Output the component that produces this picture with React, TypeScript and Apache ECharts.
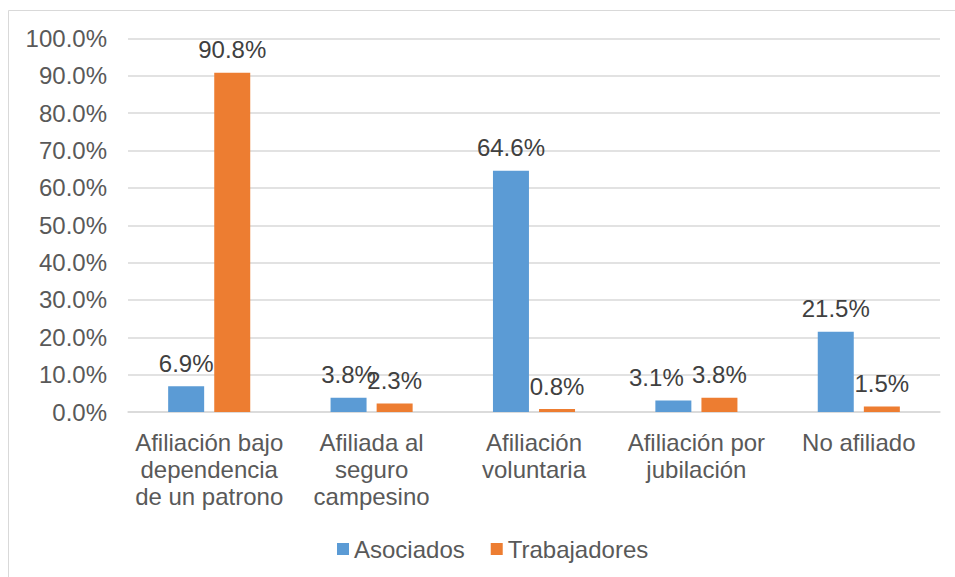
import React, { useEffect, useRef } from "react";
import * as echarts from "echarts";

const categories = [
  "Afiliación bajo\ndependencia\nde un patrono",
  "Afiliada al\nseguro\ncampesino",
  "Afiliación\nvoluntaria",
  "Afiliación por\njubilación",
  "No afiliado",
];
const asociados = [6.9, 3.8, 64.6, 3.1, 21.5];
const trabajadores = [90.8, 2.3, 0.8, 3.8, 1.5];
const seriesNames = ["Asociados", "Trabajadores"];

const FONT = "'Liberation Sans', Arial, sans-serif";
const FS = 24;

export default function App() {
  const ref = useRef<HTMLDivElement>(null);
  useEffect(() => {
    document.body.style.margin = "0";
    if (!ref.current) return;
    const chart = echarts.init(ref.current, undefined, { renderer: "svg" });
    const label = {
      show: true,
      position: "top",
      distance: 11,
      color: "#404040",
      fontSize: FS,
      fontFamily: FONT,
      formatter: (p: any) => Number(p.value).toFixed(1) + "%",
    };
    const asocData = asociados.map((v, i) =>
      i === 3 ? { value: v, label: { offset: [-17, 0] } } : v
    );
    chart.setOption({
      animation: false,
      textStyle: { fontFamily: FONT },
      graphic: [
        {
          type: "rect",
          shape: { x: 8.5, y: 10.5, width: 1000, height: 1000 },
          style: { fill: "none", stroke: "#d9d9d9", lineWidth: 1 },
          silent: true,
        },
      ],
      grid: { left: 128, right: 15, top: 38.5, bottom: 165, containLabel: false },
      legend: {
        left: 332,
        top: 532,
        itemWidth: 12,
        itemHeight: 12,
        itemGap: 26,
        icon: "rect",
        textStyle: { color: "#595959", fontSize: FS, fontFamily: FONT },
        data: seriesNames,
      },
      xAxis: {
        type: "category",
        data: categories,
        axisLine: { show: true, lineStyle: { color: "#d9d9d9", width: 1.5 } },
        axisTick: { show: false },
        axisLabel: {
          interval: 0,
          margin: 17,
          color: "#595959",
          fontSize: FS,
          lineHeight: 27,
          fontFamily: FONT,
          align: "center",
        },
      },
      yAxis: {
        type: "value",
        min: 0,
        max: 100,
        interval: 10,
        axisLine: { show: false },
        axisTick: { show: false },
        splitLine: { lineStyle: { color: "#d9d9d9", width: 1.5 } },
        axisLabel: {
          margin: 21,
          color: "#595959",
          fontSize: FS,
          fontFamily: FONT,
          formatter: (v: number) => v.toFixed(1) + "%",
        },
      },
      series: [
        {
          name: seriesNames[0],
          type: "bar",
          data: asocData,
          barWidth: 36,
          barGap: "28%",
          itemStyle: { color: "#5B9BD5" },
          label,
        },
        {
          name: seriesNames[1],
          type: "bar",
          data: trabajadores,
          barWidth: 36,
          barGap: "28%",
          itemStyle: { color: "#ED7D31" },
          label,
        },
      ],
    });
    return () => chart.dispose();
  }, []);
  return <div ref={ref} style={{ width: 955, height: 577 }} />;
}
